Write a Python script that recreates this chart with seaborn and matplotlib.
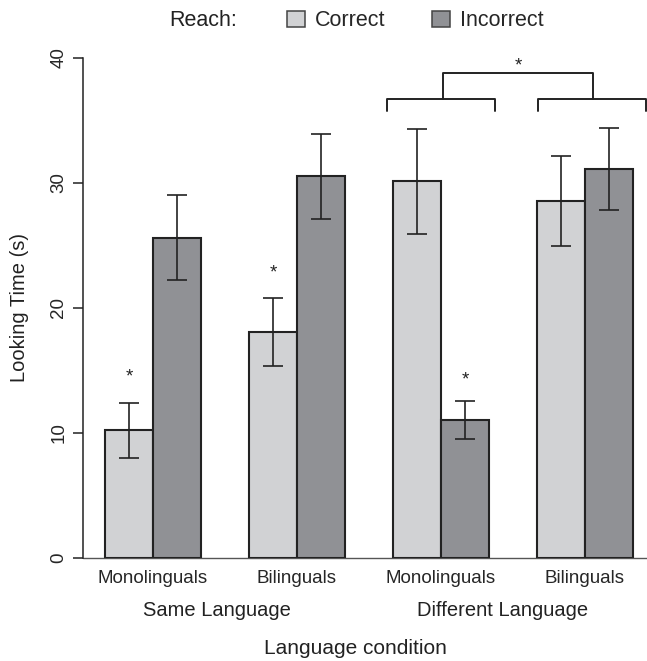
import numpy as np
import pandas as pd
import matplotlib
matplotlib.use("Agg")
import matplotlib.pyplot as plt
import matplotlib.transforms as mtransforms
from matplotlib.patches import Patch
import seaborn as sns

# Data
groups = ["Same-Mono", "Same-Bi", "Diff-Mono", "Diff-Bi"]
group_labels = ["Monolinguals", "Bilinguals", "Monolinguals", "Bilinguals"]
conditions = ["Same Language", "Different Language"]
reach = ["Correct", "Incorrect"]

correct_mean = [10.2, 18.05, 30.1, 28.5]
correct_se = [2.2, 2.75, 4.2, 3.6]
incorrect_mean = [25.6, 30.5, 11.0, 31.1]
incorrect_se = [3.4, 3.4, 1.5, 3.25]

# significance stars: (group index, reach, y of star centre)
star_group = [0, 1, 2]
star_reach = ["Correct", "Correct", "Incorrect"]
star_y = [14.9, 23.2, 14.6]

sns.set_style("white")
plt.rcParams["font.family"] = ["Liberation Sans", "DejaVu Sans"]

df = pd.DataFrame({
    "group": groups * 2,
    "reach": [reach[0]] * 4 + [reach[1]] * 4,
    "time": correct_mean + incorrect_mean,
    "se": correct_se + incorrect_se,
})

fig = plt.figure(figsize=(6.47, 6.61), dpi=100)
W, H = 647, 661
ax = fig.add_axes([83 / W, 1 - 557.7 / H, (647 - 83) / W, 500 / H])

light, dark, ink = "#d1d2d4", "#909195", "#222222"
sns.barplot(data=df, x="group", y="time", hue="reach", order=groups,
            hue_order=reach, palette=[light, dark], width=2 / 3, gap=0,
            edgecolor=ink, linewidth=1.5, saturation=1, legend=False,
            errorbar=None, ax=ax)

# error bars at the bar centres seaborn placed
centres = {}
for r, cont in zip(reach, ax.containers):
    sub = df[df["reach"] == r].set_index("group").loc[groups]
    xs = [p.get_x() + p.get_width() / 2 for p in cont.patches]
    centres[r] = xs
    ax.errorbar(xs, sub["time"], yerr=sub["se"], fmt="none", ecolor=ink,
                elinewidth=1.2, capsize=7.5, capthick=1.2, clip_on=False, zorder=5)

for g, r, y in zip(star_group, star_reach, star_y):
    ax.annotate("*", xy=(centres[r][g], y), xytext=(0, -7), textcoords="offset points",
                ha="center", va="baseline", fontsize=13.5, color=ink)

ax.set_xlim(-0.4861, 3.4306)
ax.set_ylim(0, 40)
ax.set_yticks([0, 10, 20, 30, 40])
ax.axhline(0, color="#555555", lw=1.0, zorder=0, clip_on=False)

for s in ["top", "right", "bottom"]:
    ax.spines[s].set_visible(False)
ax.spines["left"].set_color(ink)
ax.spines["left"].set_linewidth(1.1)

ax.tick_params(axis="y", direction="out", length=7.2, width=1.1, color=ink,
               labelsize=13.5, labelrotation=90, pad=4, left=True)
for lab in ax.get_yticklabels():
    lab.set_va("center")
ax.set_xticks(range(len(groups)))
ax.set_xticklabels(group_labels)
ax.tick_params(axis="x", length=0, labelsize=13.5, pad=9)
ax.set_xlabel("")
ax.set_ylabel("")

# condition labels under the pairs
blend = mtransforms.blended_transform_factory(ax.transData, fig.transFigure)
for xpos, cond in zip([0.444, 2.43], conditions):
    ax.text(xpos, 1 - 610 / H, cond, transform=blend, ha="center", va="center",
            fontsize=14.5, color="#222222")

fig.text(355 / W, 1 - 648 / H, "Language condition", ha="center", va="center",
         fontsize=15, color="#222222")
fig.text(20 / W, 1 - 307.7 / H, "Looking Time (s)", rotation=90, ha="center",
         va="center", fontsize=14.5, color="#222222")

# bracket between the two Different Language groups
lo_y, lo_end, top_y = 36.7, 35.7, 38.8
br_centres = [2.0, 3.049]
half = 0.375
for c in br_centres:
    ax.plot([c - half, c - half, c + half, c + half], [lo_end, lo_y, lo_y, lo_end],
            color=ink, lw=1.4, clip_on=False)
ax.plot([2.014, 2.014, 3.056, 3.056], [lo_y, top_y, top_y, lo_y],
        color=ink, lw=1.4, clip_on=False)
ax.annotate("*", xy=(2.535, 39.76), xytext=(0, -7), textcoords="offset points",
            ha="center", va="baseline", fontsize=13.5, color=ink, annotation_clip=False)

# legend row at the top
fig.text(169 / W, 1 - 21 / H, "Reach:", ha="left", va="center", fontsize=15.5,
         color="#222222")
handles = [Patch(facecolor=light, edgecolor="#444444", lw=1.1),
           Patch(facecolor=dark, edgecolor="#444444", lw=1.1)]
fig.legend(handles, reach, loc="center left", bbox_to_anchor=(287 / W, 1 - 21 / H),
           ncol=2, frameon=False, fontsize=15.5, handlelength=0.82, handleheight=0.82,
           handletextpad=0.46, columnspacing=2.2, borderpad=0, borderaxespad=0)

fig.savefig("out.png", dpi=100)
